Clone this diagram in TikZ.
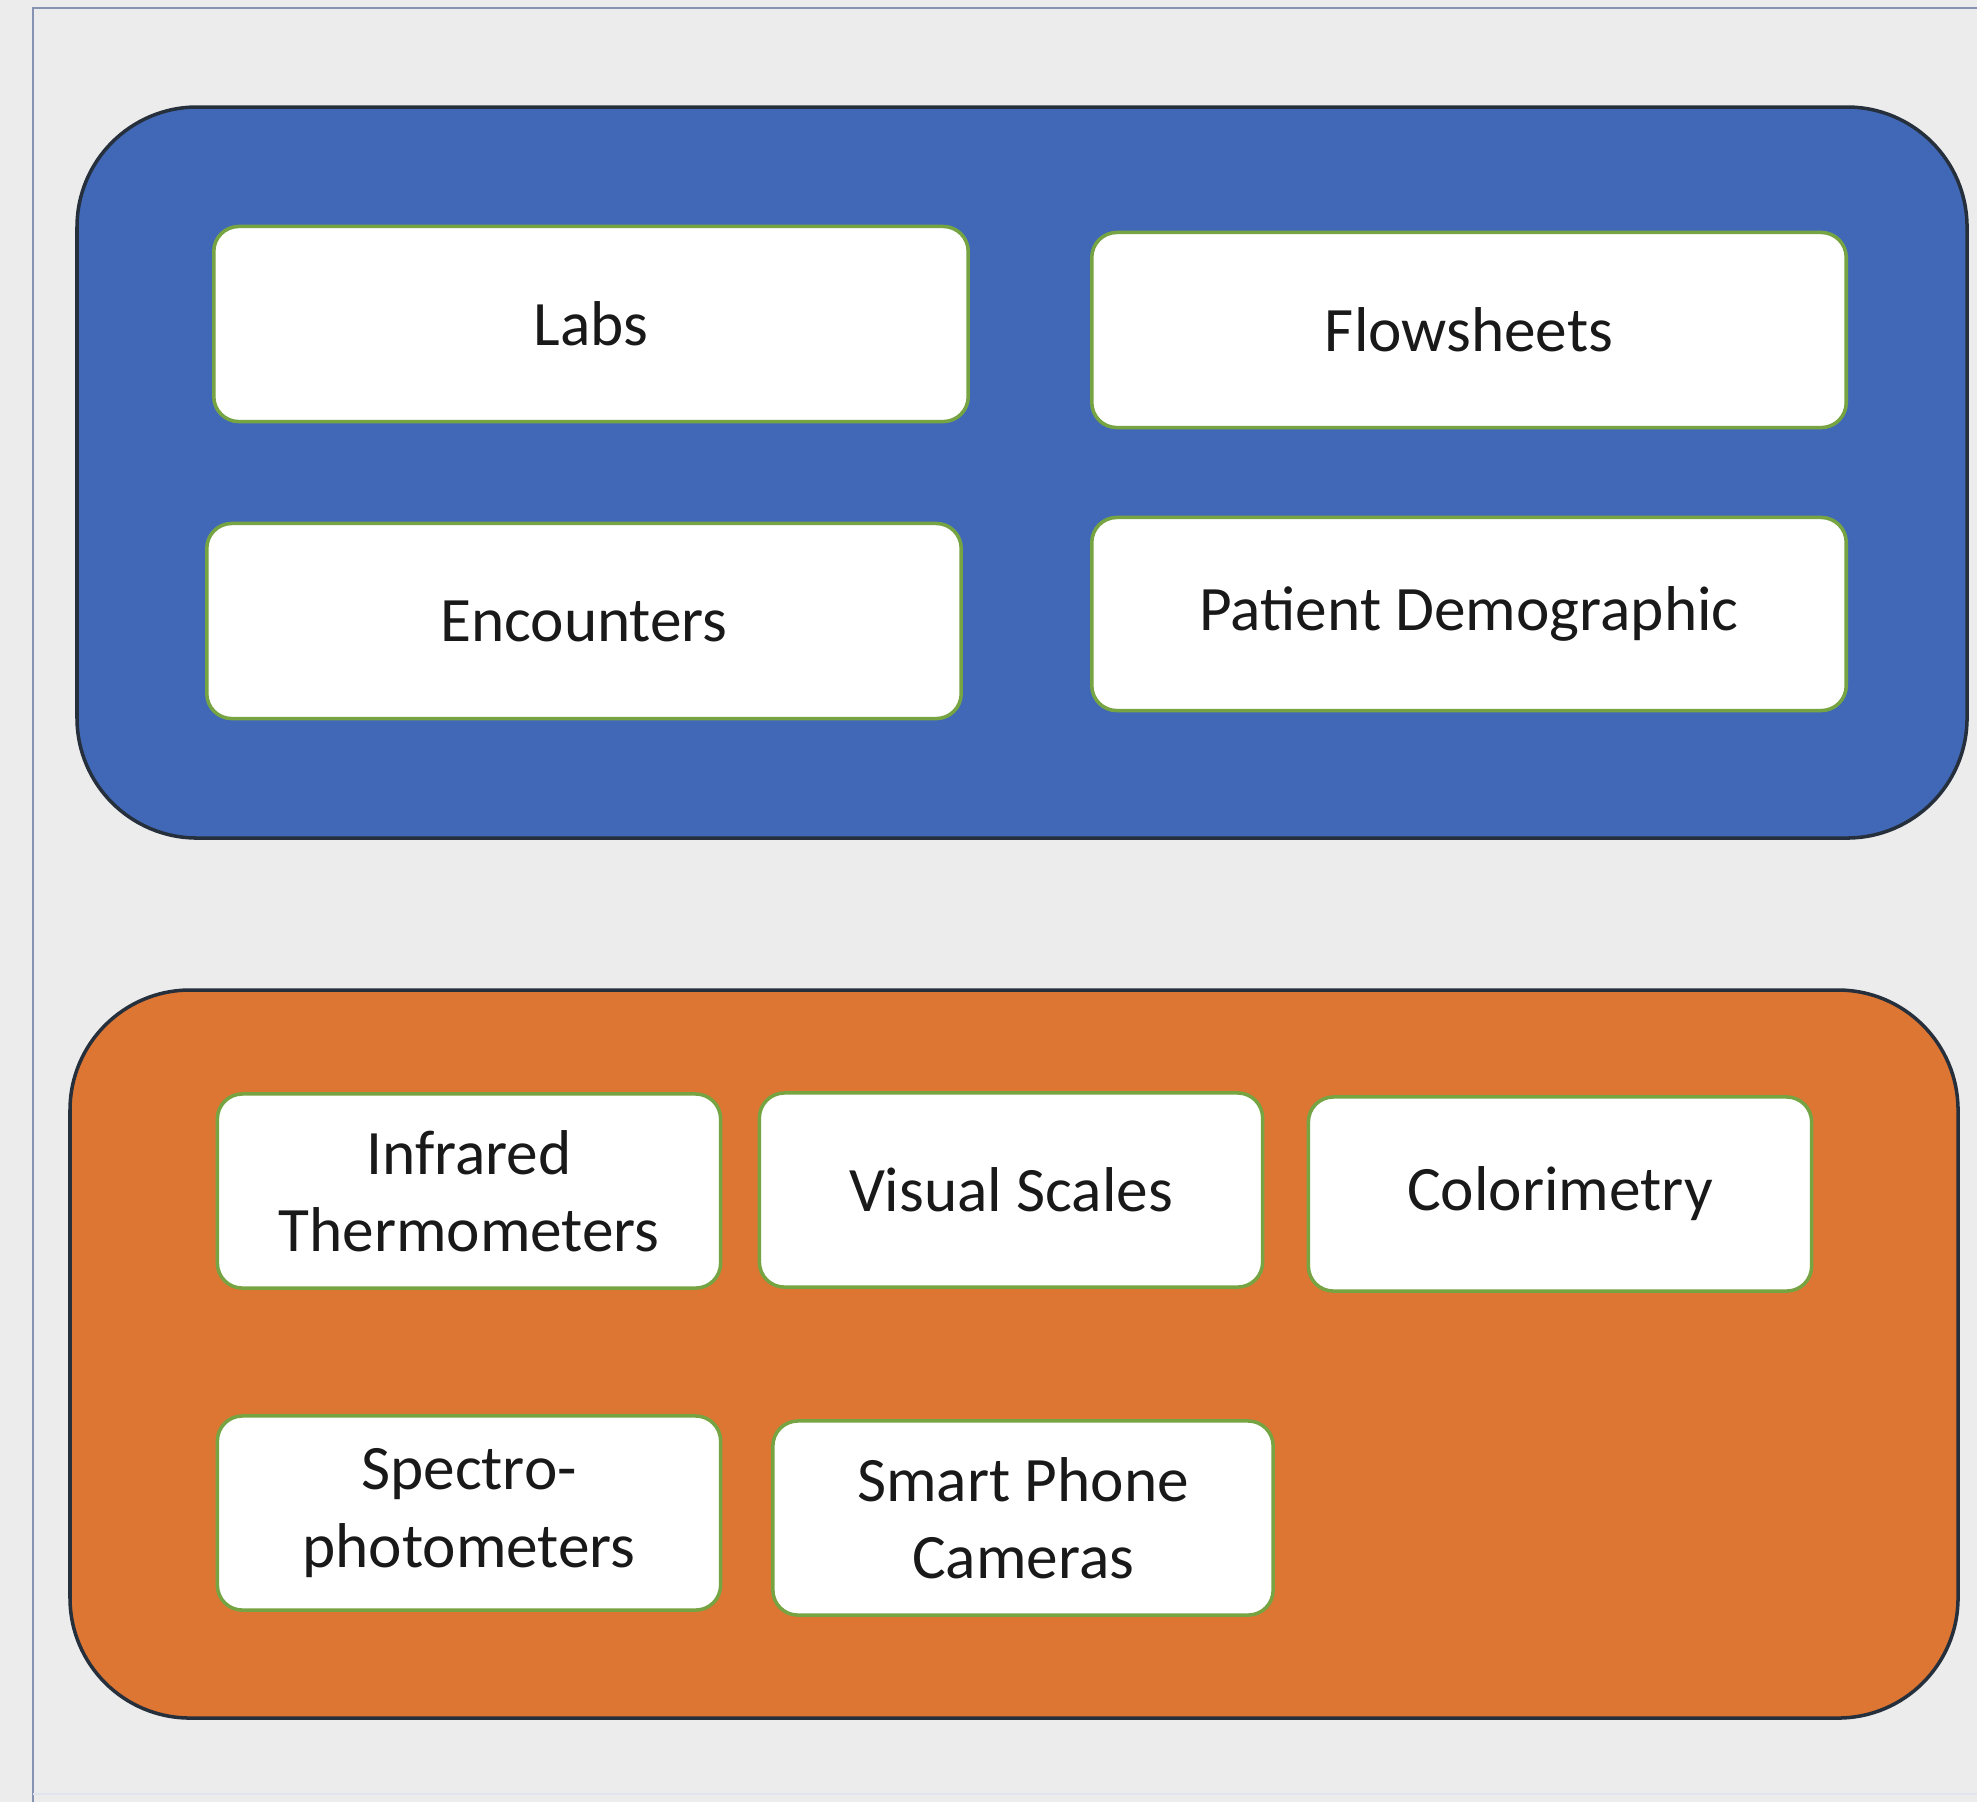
\documentclass[tikz,border=0pt]{standalone}
\usepackage{fontspec}
\setmainfont{Carlito}
\definecolor{pagegray}{HTML}{EDECEC}
\definecolor{framegray}{HTML}{8592B4}
\definecolor{panelblue}{HTML}{4168B7}
\definecolor{panelorange}{HTML}{DD7633}
\definecolor{paneledge}{HTML}{26303C}
\definecolor{itemgreen}{HTML}{77A443}

\tikzset{
  panel/.style={draw=paneledge, line width=1pt, rounded corners=1.2cm},
  item/.style={draw=itemgreen, line width=1pt, fill=white, rounded corners=0.25cm,
    align=center, inner sep=0pt, text=black!90,
    font=\fontsize{18}{22}\selectfont},
  wide/.style={item, minimum width=7.54cm, minimum height=1.95cm},
  narrow/.style={item, minimum width=5.03cm, minimum height=1.94cm}
}

\begin{document}
\begin{tikzpicture}[x=0.01cm, y=-0.01cm]
   % Page and frame
\coordinate (O) at (0,0);
\coordinate (P) at (1977,1802);
\useasboundingbox (O) rectangle (P);
\fill[pagegray] (O) rectangle (P);
\draw[framegray, line width=0.6pt] (33,1802) -- (33,8) -- (1977,8);
\draw[framegray!25, line width=0.5pt] (33,1794) -- (1977,1794);

   % Panels
\coordinate (B1) at (77,107);
\coordinate (B2) at (1967,838);
\coordinate (R1) at (70,990);
\coordinate (R2) at (1958,1718);
\fill[panelblue, panel] (B1) rectangle (B2);
\fill[panelorange, panel] (R1) rectangle (R2);

   % Upper items
\node[wide] (labs) at (591,324) {Labs};
\node[wide] (flowsheets) at (1469,330) {Flowsheets};
\node[wide] (encounters) at (584,621) {Encounters};
\node[wide, minimum height=1.93cm] (demographic) at (1469,614) {Patient Demographic};

   % Lower items
\node[narrow] (infrared) at (469,1191) {Infrared\\Thermometers};
\node[narrow] (visual) at (1011,1190) {Visual Scales};
\node[narrow] (colorimetry) at (1560,1194) {Colorimetry};
\node[narrow] (spectro) at (469,1513) {Spectro-\\photometers};
\node[narrow, minimum width=5.0cm] (smartphone) at (1023,1518) {Smart Phone\\Cameras};
\end{tikzpicture}
\end{document}
